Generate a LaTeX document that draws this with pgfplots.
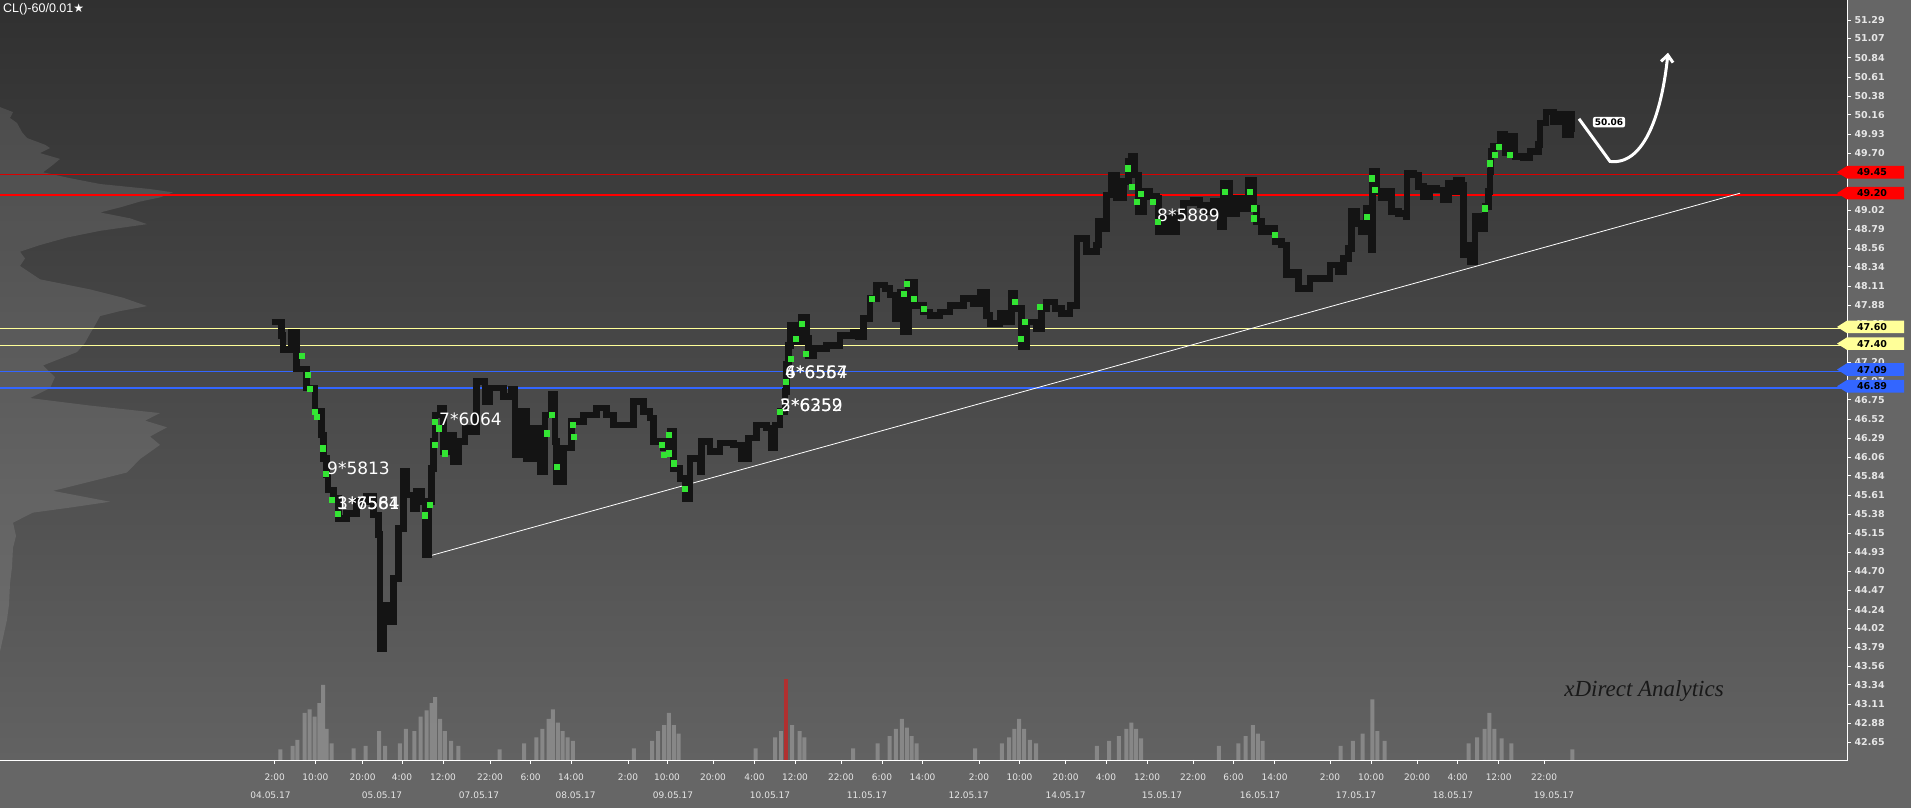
\documentclass[border=0pt]{standalone}
\usepackage{fontspec}
\setmainfont{DejaVu Sans}
\newfontfamily\titlefont{Liberation Sans}
\newfontfamily\brandfont{Liberation Serif}
\usepackage{pgfplots}
\pgfplotsset{compat=1.18}
\usetikzlibrary{arrows.meta}

\definecolor{panel}{HTML}{666666}
\definecolor{bgtop}{HTML}{303030}
\definecolor{bgmid}{HTML}{494949}
\definecolor{bgbot}{HTML}{626262}
\definecolor{barcol}{HTML}{141414}
\definecolor{hit}{HTML}{33E533}
\definecolor{lvred}{HTML}{FF0000}
\definecolor{lvyel}{HTML}{FFFF99}
\definecolor{lvblue}{HTML}{3366FF}
\definecolor{ticktext}{HTML}{E6E6E6}
\definecolor{volcol}{HTML}{8E8E8E}
\definecolor{volred}{HTML}{B03030}

\begin{document}
\begin{tikzpicture}[x=1pt,y=1pt]
\useasboundingbox (0,0) rectangle (1911,808);
\fill[panel] (0,0) rectangle (1911,808);
\shade[top color=bgtop, middle color=bgmid, bottom color=bgbot] (0,48) rectangle (1847,808);

% volume bars at the bottom (heights in px of the plot area)
\begin{axis}[at={(0,48)}, anchor=south west, width=1847pt, height=760pt, scale only axis,
    xmin=0, xmax=1847, ymin=0, ymax=760, hide axis]
\addplot[ybar, bar width=4pt, fill=volcol, fill opacity=0.85, draw=none] coordinates {
 (280.3,10.5) (292.5,14.1) (297.4,20.2) (304.7,47) (309.6,50.7) (314.5,43.4) (319.3,56.8)
 (323,75) (326.6,31.2) (331.5,16.6) (353.5,11.7) (365.6,14.1) (379,28.8) (385.1,14.1)
 (399.8,16.6) (405.9,31.2) (414.4,28.8) (420.5,43.4) (426.6,49.5) (431.5,56.8) (435.1,62.9)
 (440,41) (444.9,28.8) (451,19) (458.3,14.1) (499.7,10.5) (524.1,16.6) (536.3,22.7)
 (542.4,31.2) (548.5,41) (552.9,50.7) (557.8,37.3) (562.6,28.8) (567.7,22.7) (572.8,19)
 (633.8,11.7) (652.1,19) (658.2,28.8) (664.2,34.9) (668.9,47) (673.8,34.9) (678.7,26.3)
 (755.7,11.7) (775.2,22.7) (781.2,28.8) (792.2,34.9) (799.5,28.8) (804.4,22.7)
 (853.2,11.7) (877.5,16.6) (889.7,23.9) (895.8,31.2) (901.9,41) (906.8,32.4) (911.7,23.9) (916.5,16.6)
 (975,11.7) (1001.9,16.6) (1009.2,22.7) (1014.3,31.2) (1019.2,41) (1024.1,31.2) (1029.9,20.2) (1036,16.6)
 (1096.9,14.1) (1109.1,19) (1118.9,23.9) (1126.4,31.2) (1131.3,37.3) (1136.2,31.2) (1141.1,21.5)
 (1218.8,14.1) (1238.3,16.6) (1245.6,23.9) (1252.9,34.9) (1257.8,26.3) (1262.7,19)
 (1340.7,14.1) (1352.9,19) (1362.6,26.3) (1372.4,60.5) (1377.3,28.8) (1384.6,19)
 (1468.7,16.6) (1477.2,22.7) (1484.5,31.2) (1489.4,47) (1494.3,31.2) (1501.6,21.5) (1511.3,16.6)
 (1572.3,10.5)
};
\addplot[ybar, bar width=4pt, fill=volred, draw=none] coordinates {(786.1,81.2)};
\end{axis}

\begin{axis}[at={(0,55.3)}, anchor=south west, width=1847pt, height=760pt, scale only axis,
    xmin=0, xmax=1847, ymin=42.42, ymax=51.51,
    axis line style={draw=none},
    xtick pos=left, ytick pos=right, yticklabel pos=right,
    tick align=outside, major tick length=4pt,
    tick style={white, line width=0.7pt},
    xtick style={draw=none},
    xtick={274.8,315.4,362.6,402,443,490,530.6,571,628,667,713,754.5,795,841,882,922.5,
           979,1019.5,1065.6,1106,1147,1193,1233.5,1274.5,1330,1371,1417,1457.6,1498.7,1544},
    xticklabels={2:00,10:00,20:00,4:00,12:00,22:00,6:00,14:00,2:00,10:00,20:00,4:00,12:00,22:00,6:00,14:00,
           2:00,10:00,20:00,4:00,12:00,22:00,6:00,14:00,2:00,10:00,20:00,4:00,12:00,22:00},
    x tick label style={font=\fontsize{9}{10}\selectfont, text=ticktext, yshift=-4.6pt},
    extra x ticks={270.5,382,479,575.6,673,770,867,968.6,1065.6,1162,1260,1356,1453,1554},
    extra x tick labels={04.05.17,05.05.17,07.05.17,08.05.17,09.05.17,10.05.17,11.05.17,
           12.05.17,14.05.17,15.05.17,16.05.17,17.05.17,18.05.17,19.05.17},
    extra x tick style={major tick length=0pt, tick label style={yshift=-22pt}},
    ytick={51.29,51.07,50.84,50.61,50.38,50.16,49.93,49.70,49.48,49.25,49.02,48.79,48.56,48.34,
           48.11,47.88,47.65,47.43,47.20,46.97,46.75,46.52,46.29,46.06,45.84,45.61,45.38,45.15,
           44.93,44.70,44.47,44.24,44.02,43.79,43.56,43.34,43.11,42.88,42.65},
    y tick label style={font=\bfseries\fontsize{9.5}{10}\selectfont, text=ticktext,
           /pgf/number format/fixed, /pgf/number format/fixed zerofill,
           /pgf/number format/precision=2},
    /pgf/number format/assume math mode=true,
    clip=false]

% volume profile on the left (width in px, price)
\addplot[fill=white, fill opacity=0.11, draw=none] coordinates {
 (0,50.25) (13,50.19) (10,50.12) (17,50.06) (22,49.95) (27,49.88) (45,49.80) (50,49.76) (40,49.70)
 (60,49.63) (52,49.55) (43,49.47) (70,49.40) (100,49.33) (150,49.27) (173,49.23) (160,49.17)
 (140,49.12) (120,49.05) (100,48.99) (130,48.92) (147,48.85) (100,48.77) (67,48.69) (40,48.60)
 (20,48.52) (25,48.44) (20,48.35) (30,48.27) (40,48.19) (90,48.07) (123,47.97) (147,47.87)
 (120,47.81) (100,47.75) (95,47.64) (90,47.54) (85,47.43) (77,47.32) (60,47.24) (43,47.16)
 (55,47.02) (50,46.89) (30,46.77) (90,46.68) (160,46.59) (145,46.50) (167,46.42) (150,46.31)
 (160,46.21) (140,46.04) (127,45.88) (90,45.77) (53,45.66) (110,45.53) (70,45.46) (33,45.40)
 (13,45.28) (16,45.12) (13,44.98) (12,44.75) (10,44.55) (9,44.30) (7,44.12) (3,43.90) (0,43.74)
};

% key levels
\addplot[lvred!85!black, line width=0.8pt] coordinates {(0,49.45) (1847,49.45)};
\addplot[lvred, line width=1.3pt] coordinates {(0,49.20) (1847,49.20)};
\addplot[lvyel, line width=1pt] coordinates {(0,47.60) (1847,47.60)};
\addplot[lvyel, line width=1pt] coordinates {(0,47.40) (1847,47.40)};
\addplot[lvblue, line width=1.2pt] coordinates {(0,47.09) (1847,47.09)};
\addplot[lvblue, line width=1.2pt] coordinates {(0,46.89) (1847,46.89)};

% trend line
\addplot[white, line width=0.8pt] coordinates {(426,44.87) (1740,49.22)};

% price path
\addplot[const plot, barcol, line width=6.5pt, line join=miter] coordinates {
 (271.7,47.68) (281.7,47.52) (283,47.35) (291.7,47.56) (296.7,47.12) (306.7,46.89) (315,46.61)
 (321.7,46.33) (323.3,46.05) (326.7,45.85) (328,45.67) (333.3,45.57) (338.3,45.33) (346.7,45.39)
 (356.7,45.53) (366.7,45.59) (373.3,45.37) (378.3,45.14) (380,43.77) (383.3,44.29) (388,44.09)
 (393.3,44.61) (398.3,45.21) (403.3,45.89) (406.7,45.61) (413.3,45.45) (416.7,45.65) (421.7,45.53)
 (425,44.89) (428.3,45.53) (431.7,45.93) (433.3,46.25) (435,46.57) (440,46.65) (443.3,46.13)
 (448.3,46.33) (453.3,46.01) (458.3,46.25) (465,46.41) (471.7,46.37) (476.7,46.97) (485,46.73)
 (490,46.89) (503.3,46.79) (511.7,46.87) (515,46.09) (520,46.61) (526.7,46.05) (533.3,46.41)
 (540,45.89) (545,46.57) (551.7,46.81) (555,46.25) (556.7,45.77) (563.3,46.17) (571.7,46.49)
 (583.3,46.57) (596.7,46.65) (606.7,46.57) (613.3,46.45) (623.3,46.45) (633.3,46.73) (643.3,46.61)
 (650,46.53) (653.3,46.25) (663.3,46.17) (670,46.37) (673.3,45.93) (680,45.81) (685,45.57)
 (690,46.05) (700,45.89) (701.7,46.25) (710,46.13) (720,46.23) (733.3,46.21) (741.7,46.05)
 (748.3,46.29) (756.7,46.45) (766.7,46.41) (771.7,46.17) (775,46.45) (780,46.61) (785,46.85)
 (786.7,47.17) (788.3,47.40) (790.7,47.64) (796.7,47.44) (801.7,47.74) (806.7,47.48) (808.3,47.28)
 (813.3,47.36) (826.7,47.40) (840,47.52) (853.3,47.56) (858.3,47.50) (863.3,47.72) (870,47.96)
 (876.7,48.12) (885,48.08) (890,48.00) (895,47.72) (900,48.04) (903.3,47.56) (908.3,48.16)
 (915,47.88) (923.3,47.80) (930,47.76) (940,47.80) (950,47.88) (963.3,47.96) (973.3,47.90)
 (980,48.04) (986.7,47.76) (990,47.66) (1000,47.78) (1005,47.68) (1011.7,48.02) (1015,47.84)
 (1021.7,47.38) (1026.7,47.68) (1036.7,47.60) (1041.7,47.84) (1046.7,47.92) (1055,47.84)
 (1061.7,47.78) (1070,47.88) (1077,48.68) (1081.7,48.68) (1086.7,48.52) (1096.7,48.60)
 (1098.3,48.88) (1103.3,48.80) (1106.7,49.20) (1111.7,49.44) (1116.7,49.16) (1123.3,49.36)
 (1128.3,49.60) (1131.7,49.66) (1135,49.44) (1138.3,49.00) (1143.3,49.24) (1150,49.18)
 (1156.7,49.16) (1158.3,48.76) (1165,48.92) (1170,48.76) (1176.7,48.96) (1183.3,49.10)
 (1193.3,49.14) (1200,49.08) (1206.7,49.00) (1213.3,49.12) (1220,48.82) (1223.3,49.34)
 (1230,48.98) (1236.7,49.16) (1243.3,49.04) (1248.3,49.38) (1253.3,49.04) (1256.7,48.88)
 (1261.7,48.76) (1268.3,48.80) (1275,48.64) (1281.7,48.60) (1286.7,48.24) (1293.3,48.28)
 (1298.3,48.08) (1310,48.20) (1320,48.20) (1330,48.36) (1338.3,48.28) (1343.3,48.44)
 (1348.3,48.56) (1351.7,49.00) (1356.7,48.86) (1361.7,48.76) (1366.7,49.04) (1371.7,48.54)
 (1372.7,49.48) (1376.7,49.24) (1381.7,49.16) (1386.7,49.24) (1391.7,49.00) (1398.3,48.98)
 (1406.7,48.94) (1407,49.46) (1413.3,49.44) (1418.3,49.30) (1423.3,49.18) (1430,49.28)
 (1436.7,49.26) (1443.3,49.14) (1448.3,49.34) (1453.3,49.24) (1456.7,49.38) (1461.7,49.32)
 (1463.3,48.48) (1468.3,48.60) (1470,48.40) (1475,48.94) (1480,48.80) (1485,49.06)
 (1488.3,49.24) (1490,49.48) (1491,49.72) (1493.3,49.78) (1500,49.92) (1505,49.70) (1510,49.90)
 (1515,49.66) (1523.3,49.64) (1530,49.72) (1538.3,49.80) (1540,50.06) (1546,50.19) (1553.3,50.08)
 (1560,50.16) (1565,49.92) (1570.7,50.16) (1572,49.95)
};

% highlighted prints
\addplot[only marks, mark=square*, mark size=2.6pt, color=hit] coordinates {
 (301.7,47.28) (307.3,47.05) (310,46.88) (315,46.61) (316.7,46.55) (322.7,46.17) (326,45.87)
 (331.7,45.55) (337.3,45.39) (435,46.49) (438.3,46.41) (434.3,46.21) (445,46.11) (424.3,45.37)
 (429.3,45.49) (551.7,46.57) (546.7,46.35) (556.7,45.95) (572.3,46.45) (573.3,46.31)
 (661.7,46.21) (668.3,46.11) (673.3,45.99) (685,45.69) (668.3,46.33) (663.3,46.09)
 (780,46.61) (785.7,46.97) (790.7,47.24) (796,47.48) (801.7,47.66) (806,47.30)
 (906.7,48.14) (903.3,48.02) (913.3,47.96) (923.3,47.84) (871.7,47.96)
 (1015,47.92) (1020.7,47.48) (1025,47.68) (1040,47.86) (1127.3,49.52) (1131.7,49.30)
 (1140.7,49.21) (1136.7,49.12) (1152.7,49.12) (1157.3,48.88) (1249.3,49.24) (1254,48.92)
 (1254,49.04) (1275,48.72) (1225,49.24)
 (1371.7,49.40) (1375,49.26) (1366.7,48.94) (1484.3,49.04) (1489.3,49.58) (1495,49.68)
 (1498.3,49.78) (1510,49.68)
};

% print annotations
\begin{scope}[every node/.style={anchor=west, text=white, inner sep=0pt,
    font=\fontsize{17}{18}\selectfont}]
\node at (axis cs:327,45.93) {9*5813};
\node at (axis cs:337,45.51) {3*6564};
\node at (axis cs:337,45.51) {1*7581};
\node at (axis cs:439,46.52) {7*6064};
\node at (axis cs:785,47.08) {4*6567};
\node at (axis cs:785,47.08) {6*6554};
\node at (axis cs:780,46.68) {5*6259};
\node at (axis cs:780,46.68) {2*6352};
\node at (axis cs:1157,48.95) {8*5889};
\end{scope}

% last price and projected move
\draw[white, line width=3pt, -{Straight Barb[length=7pt,width=12pt]}]
  (axis cs:1579,50.11) -- (axis cs:1610,49.60)
  .. controls (axis cs:1645,49.55) and (axis cs:1662,50.2) .. (axis cs:1668,50.90);
\node[fill=white, rounded corners=2pt, inner sep=1.8pt, text=black,
      font=\bfseries\fontsize{9}{9}\selectfont] at (axis cs:1609,50.07) {50.06};

\node[text=black!90, font=\brandfont\itshape\fontsize{23}{24}\selectfont]
  at (axis cs:1644,43.27) {xDirect Analytics};
\end{axis}

% frame of the price pane and the time ticks under it
\draw[white, line width=0.9pt] (0,48) -- (1847,48) -- (1847,808);
\foreach \x in {274.8,315.4,362.6,402,443,490,530.6,571,628,667,713,754.5,795,841,882,922.5,
           979,1019.5,1065.6,1106,1147,1193,1233.5,1274.5,1330,1371,1417,1457.6,1498.7,1544}
  \draw[white, line width=0.7pt] (\x,48) -- (\x,44);

% level tags on the price scale
\foreach \y/\c/\t in {635.76/lvred/49.45, 614.86/lvred/49.20, 481.09/lvyel/47.60,
                      464.37/lvyel/47.40, 438.45/lvblue/47.09, 421.73/lvblue/46.89}{
  \fill[\c] (1837,\y) -- (1847,\y+6.3) -- (1904,\y+6.3) -- (1904,\y-6.3) -- (1847,\y-6.3) -- cycle;
  \node[text=black, inner sep=0pt, font=\bfseries\fontsize{9.5}{10}\selectfont] at (1872,\y) {\t};
}

% instrument title
\node[anchor=west, text=white, inner sep=0pt] at (3,799)
  {{\titlefont\fontsize{12.5}{13}\selectfont CL()-60/0.01}{\fontsize{12}{13}\selectfont ★}};
\end{tikzpicture}
\end{document}
